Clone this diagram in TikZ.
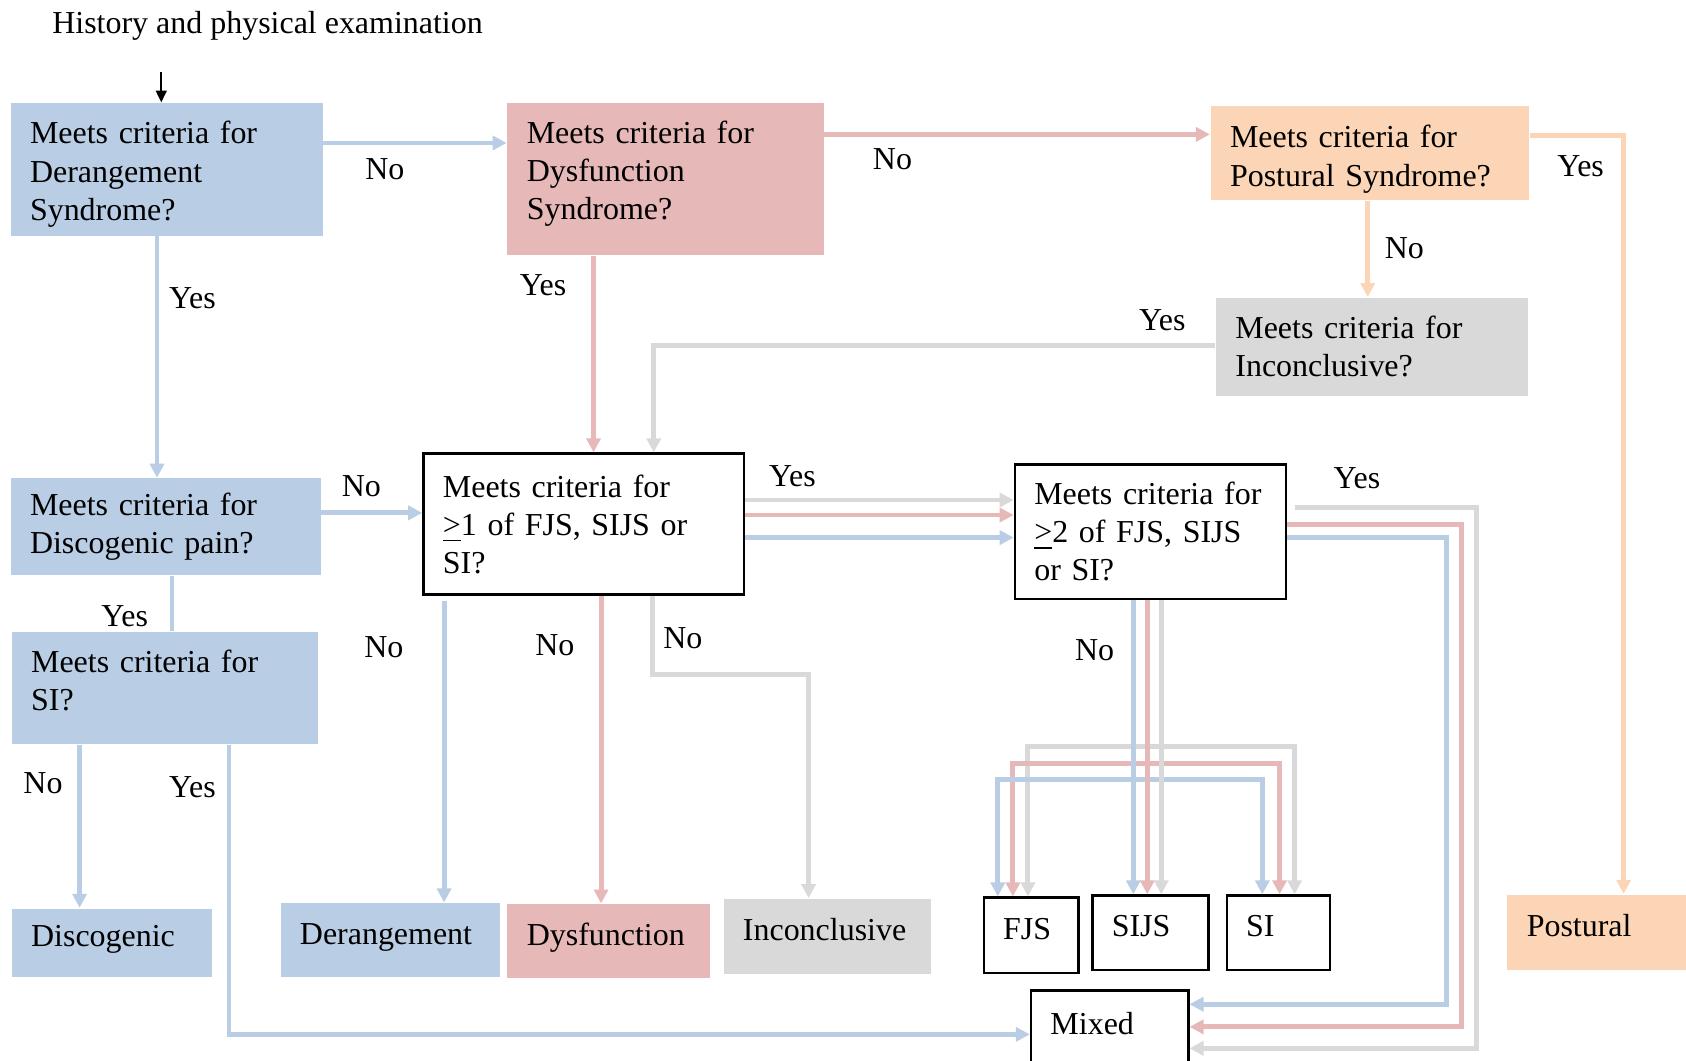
\documentclass[tikz,border=0pt]{standalone}
\usepackage{fontspec}
\setmainfont{Liberation Serif}
\usetikzlibrary{arrows.meta}
\definecolor{cblue}{HTML}{B9CDE5}
\definecolor{cpink}{HTML}{E6B9B8}
\definecolor{cpeach}{HTML}{FBD5B5}
\definecolor{cgray}{HTML}{D9D9D9}
\hyphenpenalty=10000
\exhyphenpenalty=10000

\begin{document}
\begin{tikzpicture}[
  x=0.01cm, y=-0.01cm,
  every node/.style={font=\fontsize{8.45}{10.1}\selectfont},
  qbox/.style={rectangle, align=left, inner xsep=0.18cm, inner ysep=0pt},
  qblue/.style={qbox, fill=cblue},
  qpink/.style={qbox, fill=cpink},
  qpeach/.style={qbox, fill=cpeach},
  qgray/.style={qbox, fill=cgray},
  qwhite/.style={qbox, draw=black, line width=0.7pt},
  leaf/.style={text height=6pt, text depth=4pt},
  lbl/.style={inner sep=0pt},
  lnk/.style={line width=1.3pt, -{Triangle[length=0.13cm, width=0.13cm]}},
  lblue/.style={lnk, draw=cblue},
  lpink/.style={lnk, draw=cpink},
  lpeach/.style={lnk, draw=cpeach},
  lgray/.style={lnk, draw=cgray},
  startarr/.style={line width=0.6pt, -{Triangle[length=0.11cm, width=0.1cm]}}
]
\useasboundingbox (0,0) rectangle (1568,986);

% Start
\node[lbl, anchor=west] (title) at (48,24) {History and physical examination};
\coordinate (start) at (150,67);

% Top row: syndrome questions
\node[qblue, text width=2.54cm, minimum height=1.23cm, text depth=19.4pt] (dq) at (155,157.5)
  {Meets criteria for\\Derangement\\Syndrome?};
\node[qpink, text width=2.58cm, minimum height=1.41cm, text depth=24.8pt] (fq) at (619,166.5)
  {Meets criteria for\\Dysfunction\\Syndrome?};
\node[qpeach, text width=2.60cm, minimum height=0.87cm, text depth=8.8pt] (pq) at (1274,142.5)
  {Meets criteria for\\Postural Syndrome?};
\node[qgray, text width=2.54cm, minimum height=0.91cm] (iq) at (1276,322.5)
  {Meets criteria for\\Inconclusive?};

% Left column: discogenic
\node[qblue, text width=2.52cm, minimum height=0.90cm] (dpq) at (154,490)
  {Meets criteria for\\Discogenic pain?};
\node[qblue, text width=2.49cm, minimum height=1.04cm, text depth=14.1pt] (siq) at (153.5,640)
  {Meets criteria for\\SI?};

% Middle row: SIJ questions
\node[qwhite, text width=2.62cm, minimum height=1.31cm] (ga) at (543,487.5)
  {Meets criteria for\\\underline{>}1 of FJS, SIJS or\\SI?};
\node[qwhite, text width=2.16cm, minimum height=1.25cm] (gb) at (1070,494.5)
  {Meets criteria for\\\underline{>}2 of FJS, SIJS\\or SI?};

% Bottom row: outcomes
\node[qblue, leaf, text width=1.50cm, minimum height=0.64cm] (disc) at (104,877) {Discogenic};
\node[qblue, leaf, text width=1.68cm, minimum height=0.69cm] (der) at (363,874.5) {Derangement};
\node[qpink, leaf, text width=1.52cm, minimum height=0.69cm] (dys) at (566,875.5) {Dysfunction};
\node[qgray, leaf, text width=1.57cm, minimum height=0.70cm] (inc) at (769.5,871) {Inconclusive};
\node[qwhite, leaf, text width=0.52cm, minimum height=0.70cm] (fjs) at (959,870) {FJS};
\node[qwhite, leaf, text width=0.72cm, minimum height=0.69cm] (sijs) at (1070,867.5) {SIJS};
\node[qwhite, leaf, text width=0.60cm, minimum height=0.69cm] (si) at (1189,867.5) {SI};
\node[qwhite, leaf, text width=1.10cm, minimum height=0.76cm] (mixed) at (1032,959) {Mixed};
\node[qpeach, leaf, text width=1.42cm, minimum height=0.70cm] (post) at (1491,867) {Postural};

% Labels
\node[lbl] (noA) at (358,157) {No};
\node[lbl] (yesA) at (179,277) {Yes};
\node[lbl] (noB) at (830,148) {No};
\node[lbl] (yesB) at (505,265) {Yes};
\node[lbl] (yesC) at (1470,155) {Yes};
\node[lbl] (noC) at (1306,231) {No};
\node[lbl] (yesD) at (1081,298) {Yes};
\node[lbl] (noD) at (336,452) {No};
\node[lbl] (yesE) at (116,573) {Yes};
\node[lbl] (noE) at (40,728) {No};
\node[lbl] (yesF) at (179,732) {Yes};
\node[lbl] (noF) at (357,602) {No};
\node[lbl] (noG) at (516,600) {No};
\node[lbl] (noH) at (635,594) {No};
\node[lbl] (yesG) at (737,443) {Yes};
\node[lbl] (yesH) at (1262,445) {Yes};
\node[lbl] (noI) at (1018,605) {No};

% Top flow
\draw[startarr] (start) -- (dq.north -| start);
\draw[lblue] (dq.east |- 0,133) -- (fq.west |- 0,133);
\draw[lblue] (dq.south -| 146,0) -- (dpq.north -| 146,0);
\draw[lpink] (fq.east |- 0,125) -- (pq.west |- 0,125);
\draw[lpink] (fq.south -| 552,0) -- (ga.north -| 552,0);
\draw[lpeach] (pq.east |- 0,126) -| (post.north -| 1510,0);
\draw[lpeach] (pq.south -| 1272,0) -- (iq.north -| 1272,0);
\draw[lgray] (iq.west |- 0,321) -| (ga.north -| 608,0);

% Discogenic side
\draw[lblue] (dpq.east |- 0,477) -- (ga.west |- 0,477);
\draw[line width=1.3pt, cblue] (dpq.south -| 160,0) -- (siq.north -| 160,0);
\draw[lblue] (siq.south -| 74,0) -- (disc.north -| 74,0);
\draw[lblue] (siq.south -| 213,0) |- (mixed.west |- 0,962);

% >=1 question
\draw[lblue, shorten <=0.05cm] (ga.south -| 413,0) -- (der.north -| 413,0);
\draw[lpink] (ga.south -| 559,0) -- (dys.north -| 559,0);
\draw[lgray] (ga.south -| 607,0) -- ++(0,73) -| (inc.north -| 752,0);
\draw[lgray] (ga.east |- 0,465) -- (gb.west |- 0,465);
\draw[lpink] (ga.east |- 0,479) -- (gb.west |- 0,479);
\draw[lblue] (ga.east |- 0,500) -- (gb.west |- 0,500);

% >=2 question, yes
\draw[lgray, shorten <=0.07cm] (gb.east |- 0,472) -- ++(176,0) |- (mixed.east |- 0,975);
\draw[lpink] (gb.east |- 0,488) -- ++(162,0) |- (mixed.east |- 0,955);
\draw[lblue] (gb.east |- 0,500) -- ++(148,0) |- (mixed.east |- 0,934);

% >=2 question, no
\draw[lgray] (gb.south -| 1080,0) -- ++(0,136) -| (fjs.north -| 956,0);
\draw[lgray] (gb.south -| 1080,0) -- ++(0,136) -| (si.north -| 1204,0);
\draw[lpink] (gb.south -| 1067,0) -- ++(0,152) -| (fjs.north -| 942,0);
\draw[lpink] (gb.south -| 1067,0) -- ++(0,152) -| (si.north -| 1190,0);
\draw[lblue] (gb.south -| 1054,0) -- ++(0,167) -| (fjs.north -| 928,0);
\draw[lblue] (gb.south -| 1054,0) -- ++(0,167) -| (si.north -| 1174,0);
\draw[lblue] (gb.south -| 1054,0) -- (sijs.north -| 1054,0);
\draw[lpink] (gb.south -| 1067,0) -- (sijs.north -| 1067,0);
\draw[lgray] (gb.south -| 1080,0) -- (sijs.north -| 1080,0);
\end{tikzpicture}
\end{document}
